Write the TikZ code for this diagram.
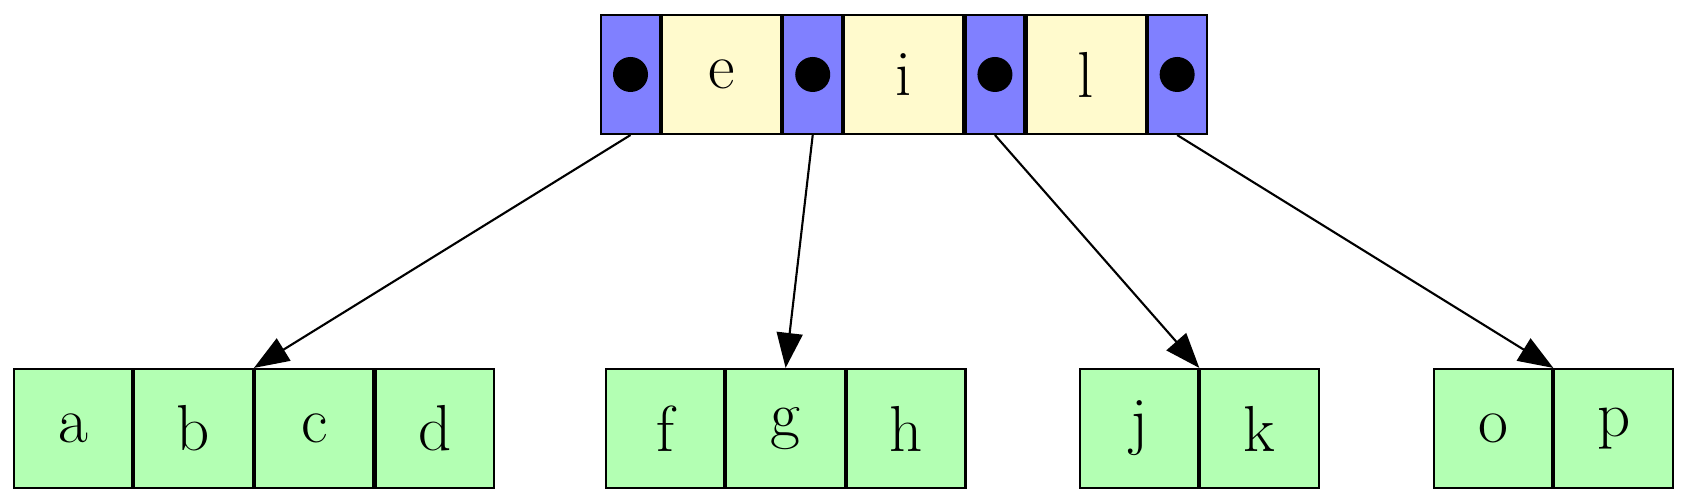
\documentclass[tikz,border=0pt]{standalone}
\usetikzlibrary{arrows.meta,positioning}

\definecolor{ptrblue}{HTML}{8080FF}
\definecolor{keyyellow}{HTML}{FFFACD}
\definecolor{leafgreen}{HTML}{B3FFB3}

\begin{document}
\begin{tikzpicture}[
  font=\fontsize{18.5}{22}\selectfont,
  line width=0.6pt,
  %% ─── cell styles ───────────────────────────────────────────────
  ptrcell/.style={
    draw=black, fill=ptrblue, inner sep=0pt,
    minimum width=0.59cm, minimum height=1.19cm},
  keycell/.style={
    draw=black, fill=keyyellow, inner sep=0pt,
    minimum width=1.19cm, minimum height=1.19cm},
  leafcell/.style={
    draw=black, fill=leafgreen, inner sep=0pt,
    minimum width=1.185cm, minimum height=1.19cm},
  arrow/.style={-{Triangle[length=0.35cm, width=0.26cm]}, line width=0.6pt}
]
  \useasboundingbox (0,0) rectangle (16.89,5.03);

  %% ─── 1. root node (pointers and keys) ──────────────────────────
  \node[ptrcell] (P0) at (6.305,4.285) {};
  \node[keycell, right=0pt of P0] (Ke) {e};
  \node[ptrcell, right=0pt of Ke] (P1) {};
  \node[keycell, right=0pt of P1] (Ki) {i};
  \node[ptrcell, right=0pt of Ki] (P2) {};
  \node[keycell, right=0pt of P2] (Kl) {l};
  \node[ptrcell, right=0pt of Kl] (P3) {};

  % pointer dots
  \foreach \p in {P0, P1, P2, P3} {
    \fill (\p) circle [radius=0.175];
  }

  %% ─── 2. leaf nodes ─────────────────────────────────────────────
  \node[leafcell] (La) at (0.73,0.745) {a};
  \node[leafcell, right=0pt of La] (Lb) {b};
  \node[leafcell, right=0pt of Lb] (Lc) {c};
  \node[leafcell, right=0pt of Lc] (Ld) {d};

  \node[leafcell] (Lf) at (6.65,0.745) {f};
  \node[leafcell, right=0pt of Lf] (Lg) {g};
  \node[leafcell, right=0pt of Lg] (Lh) {h};

  \node[leafcell] (Lj) at (11.39,0.745) {j};
  \node[leafcell, right=0pt of Lj] (Lk) {k};

  \node[leafcell] (Lo) at (14.93,0.745) {o};
  \node[leafcell, right=0pt of Lo] (Lp) {p};

  %% ─── 3. child pointers ─────────────────────────────────────────
  \draw[arrow] (P0.south) -- (Lb.north east);
  \draw[arrow] (P1.south) -- (Lg.north);
  \draw[arrow] (P2.south) -- (Lj.north east);
  \draw[arrow] (P3.south) -- (Lo.north east);

\end{tikzpicture}
\end{document}
